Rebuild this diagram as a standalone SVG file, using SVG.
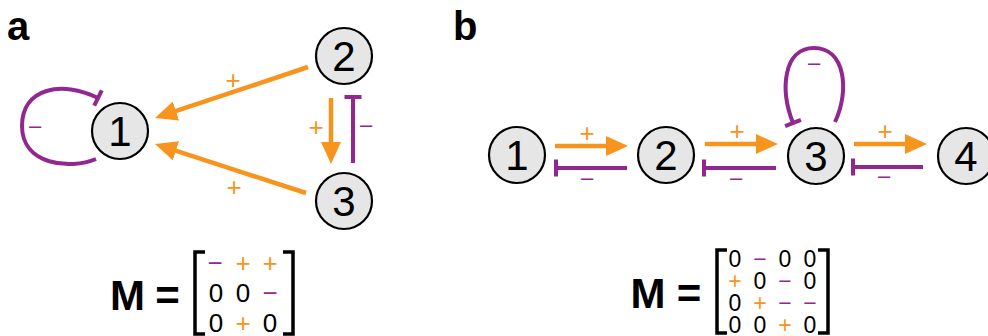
<svg xmlns="http://www.w3.org/2000/svg" width="988" height="336" viewBox="0 0 988 336">
<style>
.node{fill:#E6E6E6;stroke:#000;stroke-width:2.2}
.num{font-family:"Liberation Sans",Arial,sans-serif;font-size:42px;text-anchor:middle;fill:#000}
.act{fill:none;stroke:#F7941D;stroke-width:4.5}
.inh{fill:none;stroke:#92278F;stroke-width:4}
.lp{font-family:"Liberation Sans",Arial,sans-serif;font-size:26px;text-anchor:middle;fill:#F7941D}
.lm{font-family:"Liberation Sans",Arial,sans-serif;font-size:22px;text-anchor:middle;fill:#92278F}
.panel{font-family:"Liberation Sans",Arial,sans-serif;font-size:40px;font-weight:bold;fill:#000}
.big{font-family:"Liberation Sans",Arial,sans-serif;font-size:42px;font-weight:bold;text-anchor:middle;fill:#000}
.ma{font-family:"Liberation Sans",Arial,sans-serif;font-size:26px;text-anchor:middle;fill:#000}
.mb{font-family:"Liberation Sans",Arial,sans-serif;font-size:23px;text-anchor:middle;fill:#000}
.o{fill:#F7941D}
.p{fill:#92278F}
.br{fill:none;stroke:#000;stroke-width:3.5}
</style>
<defs>
<marker id="ah" markerUnits="userSpaceOnUse" viewBox="0 0 22 20" refX="2" refY="10" markerWidth="22" markerHeight="20" orient="auto">
<path d="M0,0 L22,10 L0,20 z" fill="#F7941D"/>
</marker>
<marker id="bar" markerUnits="userSpaceOnUse" viewBox="-3 -10 6 20" refX="0" refY="0" markerWidth="6" markerHeight="20" orient="auto">
<path d="M0,-8.5 L0,8.5" stroke="#92278F" stroke-width="4"/>
</marker>
</defs>

<text class="panel" x="7" y="40">a</text>
<text class="panel" x="453" y="40">b</text>

<g id="connectors">
<!-- panel a -->
<path class="act" d="M308,67 L174,111.7" marker-end="url(#ah)"/>
<path class="act" d="M306,193 L174,150.2" marker-end="url(#ah)"/>
<path class="act" d="M331,98 L331,144" marker-end="url(#ah)"/>
<path class="inh" d="M353,163 L353,97" marker-end="url(#bar)"/>
<path class="inh" d="M96,159 C70,170 22,165 22,126 C22,88 62,80 98,98" marker-end="url(#bar)"/>
<text class="lp" x="233" y="89">+</text>
<text class="lp" x="234" y="196">+</text>
<text class="lp" x="316" y="136">+</text>
<text class="lm" x="366" y="132">–</text>
<text class="lm" x="35" y="133">–</text>
<!-- panel b -->
<path class="act" d="M555,146 L608,146" marker-end="url(#ah)"/>
<path class="act" d="M705,144 L758,144" marker-end="url(#ah)"/>
<path class="act" d="M854,144 L907,144" marker-end="url(#ah)"/>
<path class="inh" d="M627,168 L556,168" marker-end="url(#bar)"/>
<path class="inh" d="M776,168 L704,168" marker-end="url(#bar)"/>
<path class="inh" d="M923,167 L853,167" marker-end="url(#bar)"/>
<path class="inh" d="M835,122 C850,90 845,48 814,48 C783,48 780,90 793,123" marker-end="url(#bar)"/>
<text class="lp" x="587" y="142">+</text>
<text class="lp" x="737" y="140">+</text>
<text class="lp" x="885" y="140">+</text>
<text class="lm" x="587" y="185">–</text>
<text class="lm" x="736" y="185">–</text>
<text class="lm" x="884" y="183">–</text>
<text class="lm" x="814" y="70">–</text>
</g>

<g id="a1"><circle class="node" cx="120" cy="131" r="28"/><text class="num" x="120" y="146">1</text></g>
<g id="a2"><circle class="node" cx="344" cy="56" r="28"/><text class="num" x="344" y="71">2</text></g>
<g id="a3"><circle class="node" cx="344" cy="201" r="28"/><text class="num" x="344" y="216">3</text></g>

<g id="b1"><circle class="node" cx="517" cy="155" r="28"/><text class="num" x="517" y="170">1</text></g>
<g id="b2"><circle class="node" cx="666" cy="155" r="28"/><text class="num" x="666" y="170">2</text></g>
<g id="b3"><circle class="node" cx="816" cy="156" r="28"/><text class="num" x="816" y="171">3</text></g>
<g id="b4"><circle class="node" cx="966" cy="156" r="28"/><text class="num" x="966" y="171">4</text></g>

<g id="matrixA">
<text class="big" x="127.5" y="310">M</text>
<text class="big" x="167.5" y="310">=</text>
<path class="br" d="M205,252 L195,252 L195,334 L205,334"/>
<path class="br" d="M283,252 L293,252 L293,334 L283,334"/>
<text class="ma p" x="215" y="272">−</text>
<text class="ma o" x="243" y="272">+</text>
<text class="ma o" x="270" y="272">+</text>
<text class="ma" x="216" y="302">0</text>
<text class="ma" x="243" y="302">0</text>
<text class="ma p" x="270" y="302">−</text>
<text class="ma" x="216" y="332">0</text>
<text class="ma o" x="243" y="332">+</text>
<text class="ma" x="270" y="332">0</text>
</g>

<g id="matrixB">
<text class="big" x="648" y="308">M</text>
<text class="big" x="689" y="308">=</text>
<path class="br" d="M727,250 L717,250 L717,333 L727,333"/>
<path class="br" d="M818,250 L828,250 L828,333 L818,333"/>
<text class="mb" x="735" y="267">0</text>
<text class="mb p" x="760" y="267">−</text>
<text class="mb" x="785" y="267">0</text>
<text class="mb" x="810" y="267">0</text>
<text class="mb o" x="735" y="289">+</text>
<text class="mb" x="760" y="289">0</text>
<text class="mb p" x="785" y="289">−</text>
<text class="mb" x="810" y="289">0</text>
<text class="mb" x="735" y="311">0</text>
<text class="mb o" x="760" y="311">+</text>
<text class="mb p" x="785" y="311">−</text>
<text class="mb p" x="810" y="311">−</text>
<text class="mb" x="735" y="333">0</text>
<text class="mb" x="760" y="333">0</text>
<text class="mb o" x="785" y="333">+</text>
<text class="mb" x="810" y="333">0</text>
</g>
</svg>
